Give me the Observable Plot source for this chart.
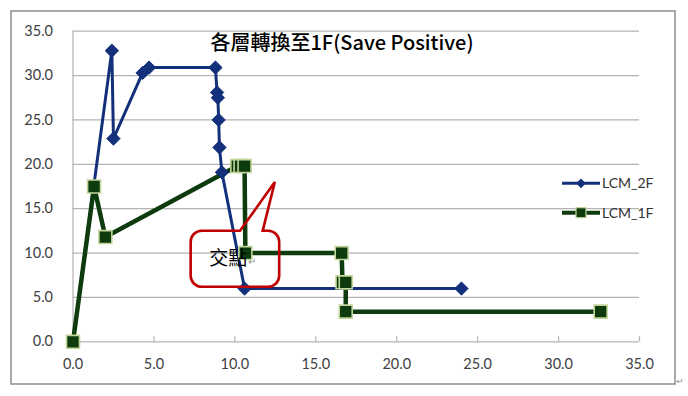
<!DOCTYPE html>
<html>
<head>
<meta charset="utf-8">
<script src="https://cdn.jsdelivr.net/npm/d3@7"></script>
<script src="https://cdn.jsdelivr.net/npm/@observablehq/plot@0.6"></script>
<style>
  html, body { margin: 0; padding: 0; background: #ffffff; }
  #chart svg { display: block; }
</style>
</head>
<body>
<div id="chart"></div>
<script>
// ---- Data ----
const titleText = "各層轉換至1F(Save Positive)";
const seriesNames = ["LCM_2F", "LCM_1F"];

const lcm2fX = [0, 2.4, 2.5, 4.3, 4.7, 8.8, 8.9, 8.95, 9.0, 9.05, 9.2, 10.6, 24.0];
const lcm2fY = [0, 32.8, 22.9, 30.3, 30.9, 30.9, 28.1, 27.5, 25.0, 21.9, 19.1, 6.0, 6.0];

const lcm1fX = [0, 1.3, 2.0, 10.15, 10.35, 10.6, 10.65, 16.6, 16.65, 16.85, 16.85, 32.6];
const lcm1fY = [0, 17.5, 11.8, 19.8, 19.8, 19.8, 10.0, 10.0, 6.7, 6.7, 3.4, 3.4];

const xTicks = [0, 5, 10, 15, 20, 25, 30, 35];
const yTicks = [0, 5, 10, 15, 20, 25, 30, 35];

// callout annotation (data units)
const calloutText = "交點";
const calloutBox = {x1: 7.3, x2: 12.77, y1: 6.15, y2: 12.45};
const calloutTip = {x: 12.5, y: 17.95};
const calloutBase = [10.35, 11.75];
const calloutLabel = {x: 8.45, y: 8.55};

// ---- Build tables ----
const blue = lcm2fX.map((x, i) => ({x, y: lcm2fY[i]}));
const green = lcm1fX.map((x, i) => ({x, y: lcm1fY[i]}));

const BLUE = "#13307a";
const GREEN = "#0d3b0d";
const GREEN_EDGE = "#c3d69b";
const GRID = "#b3b3b3";

const plot = Plot.plot({
  width: 688,
  height: 396,
  marginLeft: 72.5,
  marginRight: 49,
  marginTop: 30.7,
  marginBottom: 54.7,
  x: {domain: [0, 35]},
  y: {domain: [0, 35]},
  style: {fontFamily: "Lato, 'Open Sans', sans-serif", fontSize: "14px", color: "#404040", background: "#ffffff", overflow: "visible"},
  marks: [
    Plot.gridY(yTicks, {stroke: GRID, strokeOpacity: 1, strokeWidth: 1.2}),
    Plot.ruleX([0], {stroke: GRID, strokeWidth: 1.2}),
    Plot.ruleX(xTicks.slice(1), {y1: 0, y2: 0, insetTop: -5, stroke: GRID, strokeWidth: 1.2}),
    Plot.axisY(yTicks, {tickSize: 0, tickPadding: 20, tickFormat: d3.format(".1f"), label: null, fontSize: 14.5}),
    Plot.axisX(xTicks, {tickSize: 0, tickPadding: 17, tickFormat: d3.format(".1f"), label: null, fontSize: 14.5}),
    Plot.line(blue, {x: "x", y: "y", stroke: BLUE, strokeWidth: 3, strokeLinejoin: "round"}),
    Plot.line(green, {x: "x", y: "y", stroke: GREEN, strokeWidth: 4.5, strokeLinejoin: "round"}),
    Plot.dot(blue, {x: "x", y: "y", symbol: "diamond2", r: 6, fill: BLUE, stroke: BLUE, strokeWidth: 1}),
    Plot.dot(green, {x: "x", y: "y", symbol: "square", r: 7.3, fill: GREEN, stroke: GREEN_EDGE, strokeWidth: 1.6})
  ]
});

const svg = d3.select(plot);
const sx = plot.scale("x"), sy = plot.scale("y");
const X = v => sx.apply(v), Y = v => sy.apply(v);

// outer chart border
svg.append("rect")
  .attr("x", 11).attr("y", 11).attr("width", 664).attr("height", 373)
  .attr("fill", "none").attr("stroke", "#8c8c8c").attr("stroke-width", 1.5);

// title
svg.append("text")
  .attr("x", 342).attr("y", 49.5)
  .attr("text-anchor", "middle")
  .attr("font-family", "'Noto Sans CJK TC', 'Noto Sans', sans-serif")
  .attr("font-size", 20).attr("font-weight", 500)
  .attr("fill", "#000")
  .text(titleText);

// legend
const legendRows = [
  {name: seriesNames[0], y: 183.3, color: BLUE, w: 3, sym: "diamond"},
  {name: seriesNames[1], y: 212.7, color: GREEN, w: 4, sym: "square"}
];
legendRows.forEach(r => {
  const g = svg.append("g");
  g.append("line").attr("x1", 562).attr("x2", 600).attr("y1", r.y).attr("y2", r.y)
    .attr("stroke", r.color).attr("stroke-width", r.w);
  if (r.sym === "diamond") {
    g.append("path").attr("d", d3.symbol(d3.symbolDiamond2, 60)())
      .attr("transform", `translate(581,${r.y})`).attr("fill", r.color);
  } else {
    g.append("rect").attr("x", 576).attr("y", r.y - 5).attr("width", 10).attr("height", 10)
      .attr("fill", r.color).attr("stroke", GREEN_EDGE).attr("stroke-width", 1.2);
  }
  g.append("text").attr("x", 602).attr("y", r.y).attr("dy", "0.35em")
    .attr("text-anchor", "start")
    .attr("font-family", "Lato, 'Open Sans', sans-serif").attr("font-size", 14)
    .attr("fill", "#333").text(r.name);
});

// callout bubble
{
  const x0 = X(calloutBox.x1), x1 = X(calloutBox.x2);
  const y0 = Y(calloutBox.y2), y1 = Y(calloutBox.y1);
  const r = 11;
  const bl = X(calloutBase[0]), br = X(calloutBase[1]);
  const tx = X(calloutTip.x), ty = Y(calloutTip.y);
  const p = d3.path();
  p.moveTo(x0 + r, y0);
  p.lineTo(bl, y0);
  p.lineTo(tx, ty);
  p.lineTo(br, y0);
  p.lineTo(x1 - r, y0);
  p.arcTo(x1, y0, x1, y0 + r, r);
  p.lineTo(x1, y1 - r);
  p.arcTo(x1, y1, x1 - r, y1, r);
  p.lineTo(x0 + r, y1);
  p.arcTo(x0, y1, x0, y1 - r, r);
  p.lineTo(x0, y0 + r);
  p.arcTo(x0, y0, x0 + r, y0, r);
  p.closePath();
  svg.append("path").attr("d", p.toString())
    .attr("fill", "none").attr("stroke", "#c00000").attr("stroke-width", 2.6)
    .attr("stroke-linejoin", "miter");
  svg.append("text")
    .attr("x", X(calloutLabel.x)).attr("y", Y(calloutLabel.y))
    .attr("text-anchor", "start")
    .attr("font-family", "'Noto Sans CJK TC', sans-serif").attr("font-size", 19)
    .attr("fill", "#000").text(calloutText)
    .append("tspan").attr("font-size", 10).attr("fill", "#999").attr("dx", 1).text("↵");
}

// paragraph mark at bottom right
svg.append("text").attr("x", 676).attr("y", 384)
  .attr("text-anchor", "start")
  .attr("font-family", "'DejaVu Sans', sans-serif").attr("font-size", 9).attr("fill", "#999").text("↵");

document.getElementById("chart").appendChild(plot);
</script>
</body>
</html>
